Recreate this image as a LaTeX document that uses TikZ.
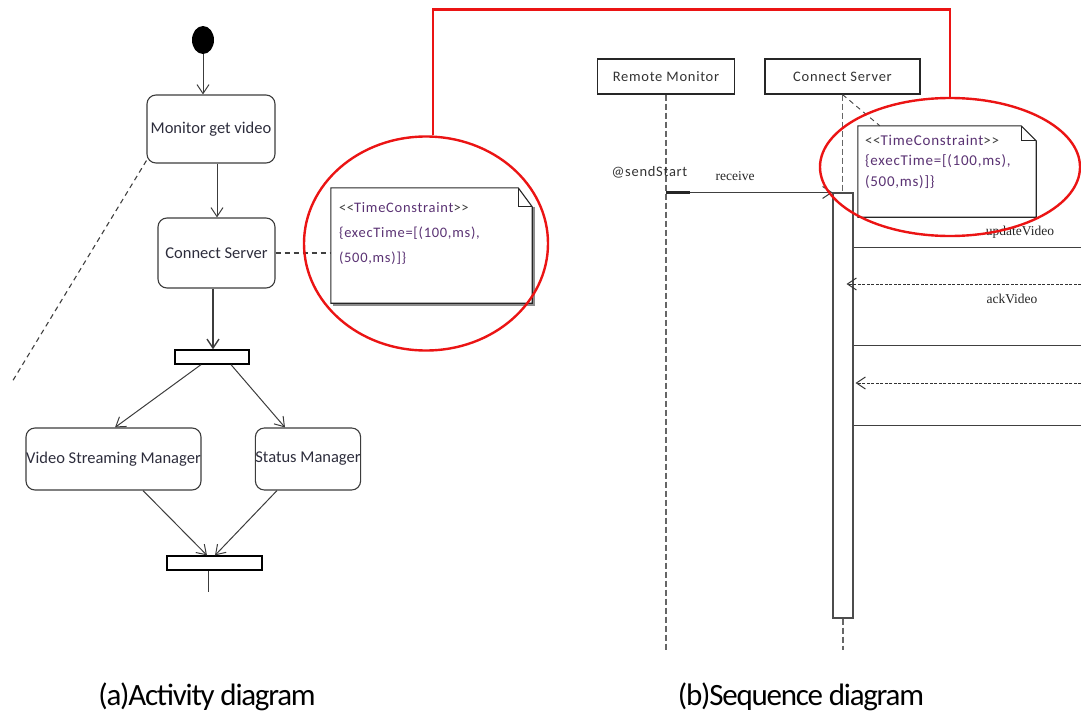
\documentclass[tikz,border=0pt]{standalone}
\usepackage{fontspec}
\setmainfont{Carlito}
\newfontfamily\seqfont[LetterSpace=5]{Carlito}
\newfontfamily\capfont[LetterSpace=-4]{Carlito}
\newfontfamily\msgfont{Liberation Serif}
\usetikzlibrary{arrows.meta,calc,shapes.geometric}

\definecolor{linegray}{RGB}{60,60,60}
\definecolor{txtdark}{RGB}{45,45,60}
\definecolor{notetxt}{RGB}{90,50,115}
\definecolor{hl}{RGB}{235,20,20}

\tikzset{
  act/.style={draw=linegray, line width=1.1pt, rounded corners=9pt, text=txtdark,
    font=\fontsize{16.5}{19}\selectfont, inner sep=0pt},
  syncbar/.style={draw=black, line width=1.3pt, fill=white, inner sep=0pt},
  flow/.style={draw=linegray, line width=1pt, -{Straight Barb[length=9pt,width=12pt]}},
  anchorline/.style={draw=black!75, line width=1.1pt, dash pattern=on 5pt off 4pt},
  lifebox/.style={draw=black!85, line width=1.1pt, inner sep=0pt, text=black!80,
    font=\seqfont\fontsize{14.5}{16}\selectfont},
  lifeline/.style={draw=black!60, line width=1.3pt, dash pattern=on 6pt off 3pt},
  actbar/.style={draw=black!70, line width=1.1pt, fill=white, inner sep=0pt},
  callmsg/.style={draw=black!75, line width=1pt},
  replymsg/.style={draw=black!80, line width=1pt, dash pattern=on 3pt off 1.5pt,
    -{Straight Barb[length=9pt,width=12pt]}},
  msglabel/.style={font=\msgfont\fontsize{13.5}{15}\selectfont, text=black!85, inner sep=0pt},
  notebody/.style={draw=none, inner sep=0pt},
  noteline/.style={draw=black!85, line width=1.1pt},
  notetext/.style={text=notetxt, align=left, inner sep=0pt, anchor=north west},
  ring/.style={ellipse, draw=hl, line width=2.4pt, inner sep=0pt},
  redlink/.style={draw=hl, line width=2.4pt},
  caption/.style={font=\capfont\fontsize{31}{34}\selectfont, inner sep=0pt}
}

\begin{document}
\begin{tikzpicture}[x=1pt,y=-1pt]
\useasboundingbox (0,0) rectangle (1081,720);

% ---------------- activity diagram ----------------
\node[ellipse, fill=black, minimum width=22pt, minimum height=28pt, inner sep=0pt] (init) at (203,40) {};
\node[act, minimum width=128pt, minimum height=68pt] (mon) at (211,129) {Monitor get video};
\node[act, minimum width=117pt, minimum height=70pt] (cs) at (216.5,253) {Connect Server};
\node[syncbar, minimum width=74pt, minimum height=14pt] (fork) at (212,357) {};
\node[act, minimum width=175pt, minimum height=62pt] (vsm) at (113.5,459) {Video Streaming Manager};
\node[act, minimum width=104pt, minimum height=62pt] (sm) at (308,459) {Status Manager};
\node[syncbar, minimum width=95pt, minimum height=14pt] (join) at (214.5,563) {};
\coordinate (jend) at (208,592);
\coordinate (lost) at (12,382);

\draw[flow] (init.south) -- (init.south |- mon.north);
\draw[flow] ([xshift=6pt]mon.south) -- ([xshift=6pt]mon.south |- cs.north);
\draw[flow, line width=1.4pt] ([xshift=-3.5pt]cs.south) -- ([xshift=-3.5pt]cs.south |- fork.north);
\draw[flow] ([xshift=-11pt]fork.south) -- ([xshift=1.5pt]vsm.north);
\draw[flow] ([xshift=19pt]fork.south) -- ([xshift=-23pt]sm.north);
\draw[flow] ([xshift=29.5pt]vsm.south) -- ([xshift=-7.5pt]join.north);
\draw[flow] ([xshift=-31pt]sm.south) -- ([xshift=0.5pt]join.north);
\draw[draw=linegray, line width=1pt] ([xshift=-6.5pt]join.south) -- (jend);
\draw[anchorline] ([yshift=3pt]mon.south west) -- (lost);

% time constraint note on the activity
\node[notebody, minimum width=201pt, minimum height=115pt] (n1) at (431.5,245.5) {};
\draw[noteline] (n1.north west) -- ([xshift=-14pt]n1.north east) -- ([yshift=-19pt]n1.north east)
  -- (n1.south east) -- (n1.south west) -- cycle;
\draw[noteline] ([xshift=-14pt]n1.north east) |- ([yshift=-19pt]n1.north east);
\draw[draw=black!45, line width=1.2pt] ([xshift=1.8pt,yshift=-19pt]n1.north east) -- ([xshift=1.8pt,yshift=-1.8pt]n1.south east) -- ([xshift=1.8pt,yshift=-1.8pt]n1.south west);
\node[notetext, font=\seqfont\fontsize{14.5}{25}\selectfont] (n1txt) at ([xshift=8pt,yshift=-15pt]n1.north west)
  {{\color{black!75}<<}TimeConstraint{\color{black!75}>>}\\\{execTime=[(100,ms),\\(500,ms)]\}};
\draw[anchorline] (cs.east) -- (cs.east -| n1.west);

% ---------------- sequence diagram ----------------
\node[lifebox, minimum width=137pt, minimum height=35pt] (rm) at (666,76.5) {Remote Monitor};
\node[lifebox, minimum width=155pt, minimum height=35pt] (cs2) at (842.5,76.5) {Connect Server};
\node[actbar, minimum width=20pt, minimum height=425pt] (exec) at (843,405.5) {};
\coordinate (rmend) at (666,650);
\coordinate (csend) at (843,650);

\draw[lifeline] (rm.south) -- (rmend);
\draw[lifeline] (cs2.south) -- (cs2.south |- exec.north);
\draw[lifeline] (exec.south) -- (csend);

\node[lifebox, draw=none, anchor=west] (sendlbl) at (611,172) {@sendStart};
\draw[callmsg, -{Straight Barb[length=9pt,width=12pt]}] (rm.south |- exec.north) -- (exec.north west);
\draw[line width=2.2pt, black!85] (rm.south |- exec.north) -- ++(24,0);
\node[msglabel] (recvlbl) at (735,176) {receive};

\coordinate (r1) at (1081,247);
\coordinate (r2) at (1081,284);
\coordinate (r3) at (1081,345);
\coordinate (r4) at (1081,383);
\coordinate (r5) at (1081,425);
\draw[callmsg] (exec.east |- r1) -- (r1);
\draw[replymsg] (r2) -- ($(exec.east |- r2)+(-7,0)$);
\draw[callmsg] (exec.east |- r3) -- (r3);
\draw[replymsg] (r4) -- ($(exec.east |- r4)+(2,0)$);
\draw[callmsg] (exec.east |- r5) -- (r5);
\node[msglabel] (updlbl) at (1020,232) {updateVideo};
\node[msglabel] (acklbl) at (1012,299) {ackVideo};

% time constraint note on the lifeline
\node[notebody, minimum width=178pt, minimum height=91pt] (n2) at (947,171.5) {};
\draw[noteline, fill=white] (n2.north west) -- ([xshift=-15pt]n2.north east) -- ([yshift=-15pt]n2.north east)
  -- (n2.south east) -- (n2.south west) -- cycle;
\draw[noteline] ([xshift=-15pt]n2.north east) |- ([yshift=-15pt]n2.north east);
\node[notetext, font=\seqfont\fontsize{15}{20.5}\selectfont] (n2txt) at ([xshift=7pt,yshift=-9pt]n2.north west)
  {{\color{black!75}<<}TimeConstraint{\color{black!75}>>}\\\{execTime=[(100,ms),\\(500,ms)]\}};
\draw[anchorline, line width=0.9pt] (cs2.south) -- ([xshift=22pt]n2.north west);

% ---------------- highlight rings ----------------
\node[ring, minimum width=244pt, minimum height=214pt] (ring1) at (426,243.5) {};
\node[ring, minimum width=260pt, minimum height=138pt] (ring2) at (950,167) {};
\draw[redlink] ([xshift=7pt]ring1.north) -- ++(0,-126) -| (ring2.north);

% ---------------- captions ----------------
\node[caption] (capa) at (207,697) {(a)Activity diagram};
\node[caption] (capb) at (801,697) {(b)Sequence diagram};
\end{tikzpicture}
\end{document}
